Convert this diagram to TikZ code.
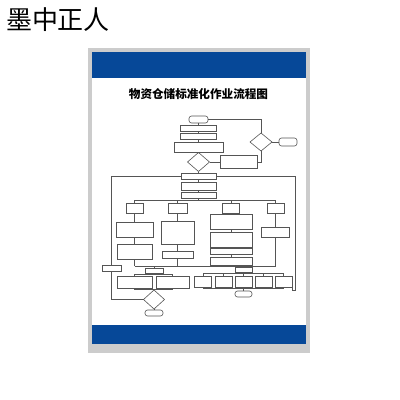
\documentclass[tikz,border=0pt]{standalone}
\usepackage{fontspec}
\newfontfamily\cjk{Noto Sans CJK SC}
\usetikzlibrary{shapes.geometric}
\definecolor{posterblue}{RGB}{6,72,152}
\definecolor{framegray}{RGB}{204,204,204}
\definecolor{ink}{RGB}{85,85,85}
\begin{document}
\begin{tikzpicture}[x=1pt,y=-1pt,
  box/.style={draw=ink, fill=white, line width=0.6pt, inner sep=0pt, outer sep=0pt, rectangle},
  term/.style={box, rounded corners=2.5pt},
  dec/.style={draw=ink, fill=white, line width=0.6pt, diamond, inner sep=0pt, outer sep=0pt},
  link/.style={draw=ink, line width=0.6pt},
  sz/.style 2 args={minimum width=#1pt, minimum height=#2pt}]
\useasboundingbox (0,0) rectangle (400,400);
% watermark
\node[font=\cjk\fontsize{26}{28}\selectfont, inner sep=0pt] (wm) at (58,20) {墨中正人};
% poster
\fill[framegray] (88,48) rectangle (310,353);
\fill[white] (92,52) rectangle (306,344);
\fill[posterblue] (92,52) rectangle (306,78);
\fill[posterblue] (92,325) rectangle (306,344);
\node[font=\cjk\bfseries\fontsize{11.6}{13}\selectfont, inner sep=0pt] (title) at (198.5,94) {物资仓储标准化作业流程图};
% main column
\node[term, sz={19}{7}] (t0) at (198.5,119.5) {};
\node[box, sz={36}{6}] (b1) at (198.5,128) {};
\node[box, sz={36}{6}] (b2) at (198.5,136) {};
\node[box, sz={49}{10}] (b3) at (198.5,147) {};
\node[dec, sz={22}{19}] (d2) at (198.5,162) {};
\node[box, sz={37}{13}] (rbox) at (238.5,162) {};
\node[dec, sz={22}{18}] (d1) at (261,142) {};
\node[term, sz={18}{8}] (t1) at (288,142) {};
\node[box, sz={35}{6}] (b4) at (198.5,176) {};
\node[box, sz={35}{8}] (b5) at (198.5,186) {};
\node[box, sz={35}{6}] (b6) at (198.5,195) {};
% columns
\node[box, sz={17}{10}] (c1) at (134.5,208) {};
\node[box, sz={19}{10}] (c2) at (177.5,208) {};
\node[box, sz={17}{10}] (c3) at (231,208) {};
\node[box, sz={17}{10}] (c4) at (275.5,208) {};
\node[box, sz={37}{15}] (c1a) at (134.5,229.5) {};
\node[box, sz={35}{15}] (c1b) at (134.5,251.5) {};
\node[box, sz={33}{23}] (c2a) at (177.5,232.5) {};
\node[box, sz={31}{7}] (c2b) at (177.5,254.5) {};
\node[box, sz={42}{15}] (c3a) at (231,221.5) {};
\node[box, sz={42}{15}] (c3b) at (231,239.5) {};
\node[box, sz={42}{6}] (c3c) at (231,251.5) {};
\node[box, sz={42}{8}] (c3d) at (231,261) {};
\node[box, sz={28}{10}] (c4a) at (275.5,232) {};
% lower part
\node[box, sz={19}{6}] (lb) at (111.5,268) {};
\node[box, sz={18}{5}] (m1) at (154,270.5) {};
\node[box, sz={35}{12}] (L) at (134.5,282) {};
\node[box, sz={33}{12}] (R) at (172.5,282) {};
\node[dec, sz={21}{19}] (d3) at (154,299.5) {};
\node[term, sz={18}{6}] (t2) at (154,313) {};
\node[box, sz={17}{5}] (m2) at (243.5,270) {};
\node[box, sz={17}{11}] (r1) at (203,281.5) {};
\node[box, sz={17}{11}] (r2) at (223.5,281.5) {};
\node[box, sz={17}{11}] (r3) at (243.5,281.5) {};
\node[box, sz={17}{11}] (r4) at (263.5,281.5) {};
\node[box, sz={17}{11}] (r5) at (283.5,281.5) {};
\node[term, sz={17}{6}] (t3) at (243.5,294) {};
% connectors: top
\draw[link] (t0.south) -- (b1.north);
\draw[link] (b1.south) -- (b2.north);
\draw[link] (b2.south) -- (b3.north);
\draw[link] (b3.south) -- (d2.north);
\draw[link] (d2.south) -- (b4.north);
\draw[link] (b4.south) -- (b5.north);
\draw[link] (b5.south) -- (b6.north);
\draw[link] (t0.east) -| (d1.north);
\draw[link] (d1.east) -- (t1.west);
\coordinate (dj) at (261,162);
\draw[link] (d1.south) -- (dj) -- (rbox.east);
\draw[link] (d2.east) -- (rbox.west);
% split
\coordinate (sL) at (134.5,200);
\coordinate (sR) at (275.5,200);
\draw[link] (sL) -- (sR);
\draw[link] (b6.south) -- (b6.south |- sL);
\draw[link] (sL) -- (c1.north);
\draw[link] (c2.north |- sL) -- (c2.north);
\draw[link] (c3.north |- sL) -- (c3.north);
\draw[link] (sR) -- (c4.north);
\draw[link] (c1.south) -- (c1a.north);
\draw[link] (c1a.south) -- (c1b.north);
\draw[link] (c2.south) -- (c2a.north);
\draw[link] (c2a.south) -- (c2b.north);
\draw[link] (c3.south) -- (c3a.north);
\draw[link] (c3a.south) -- (c3b.north);
\draw[link] (c3b.south) -- (c3c.north);
\draw[link] (c3c.south) -- (c3d.north);
\draw[link] (c4.south) -- (c4a.north);
% merge
\coordinate (mL) at (134.5,266);
\coordinate (mR) at (275.5,266);
\draw[link] (mL) -- (mR);
\draw[link] (c1b.south) -- (mL);
\draw[link] (c2b.south) -- (c2b.south |- mL);
\draw[link] (c3d.south) -- (c3d.south |- mL);
\draw[link] (c4a.south) -- (mR);
\draw[link] (m1.north |- mL) -- (m1.north);
\draw[link] (m2.north |- mL) -- (m2.north);
% left branch
\coordinate (bl1) at (134.5,274);
\coordinate (bl2) at (172.5,274);
\draw[link] (m1.south) -- (m1.south |- bl1);
\draw[link] (bl1) -- (bl2);
\draw[link] (bl1) -- (L.north);
\draw[link] (bl2) -- (R.north);
\coordinate (jl1) at (134.5,289);
\coordinate (jl2) at (172.5,289);
\draw[link] (L.south) -- (jl1) -- (jl2) -- (R.south);
\draw[link] (d3.north |- jl1) -- (d3.north);
\draw[link] (d3.south) -- (t2.north);
% right branch
\coordinate (br1) at (203,273.5);
\coordinate (br2) at (283.5,273.5);
\draw[link] (m2.south) -- (m2.south |- br1);
\draw[link] (br1) -- (br2);
\draw[link] (br1) -- (r1.north);
\draw[link] (r2.north |- br1) -- (r2.north);
\draw[link] (r3.north |- br1) -- (r3.north);
\draw[link] (r4.north |- br1) -- (r4.north);
\draw[link] (br2) -- (r5.north);
\coordinate (jr1) at (203,288.5);
\coordinate (jr2) at (283.5,288.5);
\draw[link] (r1.south) -- (jr1) -- (jr2) -- (r5.south);
\draw[link] (r2.south) -- (r2.south |- jr1);
\draw[link] (r3.south) -- (t3.north);
\draw[link] (r4.south) -- (r4.south |- jr1);
% loops
\coordinate (ll) at (111.5,176);
\draw[link] (b4.west) -- (ll) -- (lb.north);
\coordinate (lbot) at (111.5,299.5);
\draw[link] (lb.south) -- (lbot) -- (d3.west);
\coordinate (rl1) at (295,176);
\coordinate (rl2) at (295,290);
\coordinate (rl3) at (292,290);
\draw[link] (b4.east) -- (rl1) -- (rl2) -- (rl3) -- (r5.south east);
\end{tikzpicture}
\end{document}
